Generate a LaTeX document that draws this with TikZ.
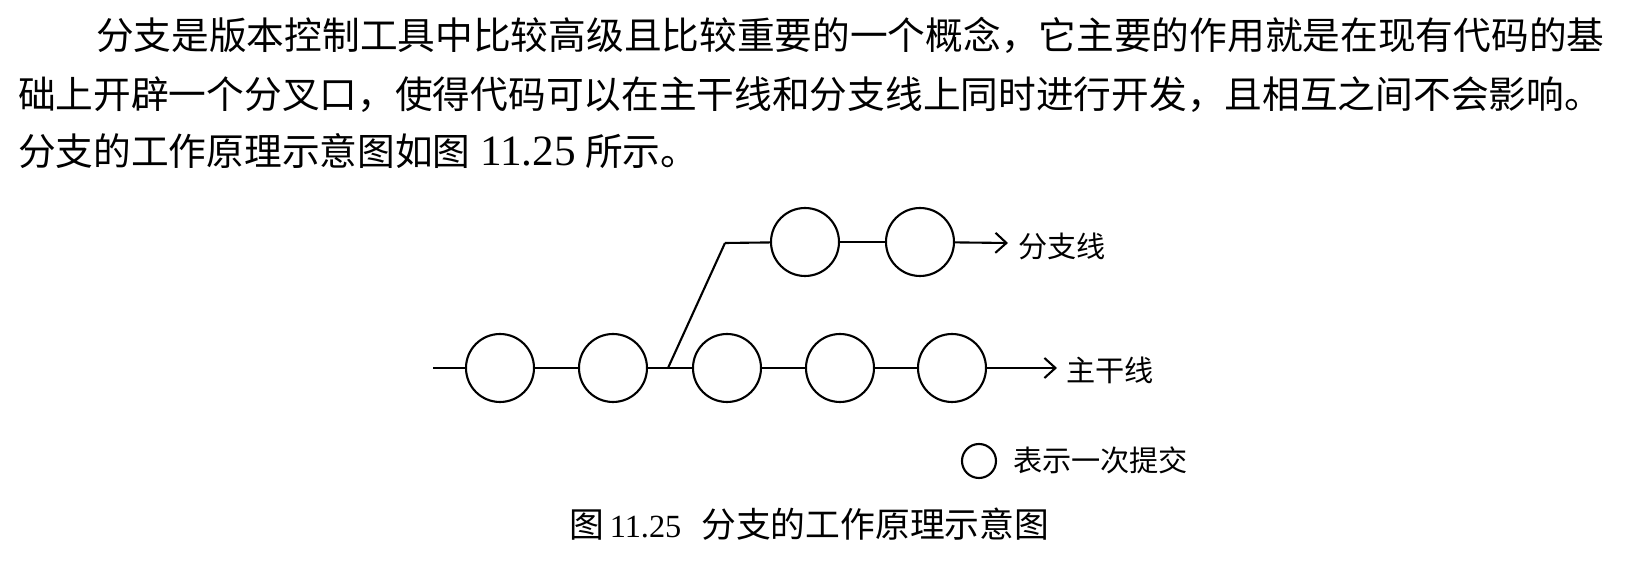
\documentclass[tikz,border=0pt]{standalone}
\usepackage{fontspec}
\setmainfont{Liberation Serif}
\newfontfamily\cjk{Noto Sans CJK SC}
\usepackage{tikz}
\usetikzlibrary{arrows.meta}
\newcommand{\bodysize}{\fontsize{10.73pt}{12pt}\selectfont}
\newcommand{\numsize}{\fontsize{12.3pt}{13pt}\selectfont}
\newcommand{\capsize}{\fontsize{9.9pt}{12pt}\selectfont}
\newcommand{\capnumsize}{\fontsize{9.2pt}{11pt}\selectfont}
\newcommand{\labsize}{\fontsize{8.3pt}{10pt}\selectfont}
\tikzstyle{cn}=[circle,draw=black,line width=0.6pt,inner sep=0pt,minimum size=0.68cm]
\tikzstyle{ln}=[circle,draw=black,line width=0.6pt,inner sep=0pt,minimum size=0.34cm]
\tikzstyle{txt}=[inner sep=0pt,anchor=west]
\tikzstyle{none}=[]
\tikzstyle{arr}=[-{Straight Barb[length=1.1mm,width=2mm]}]

\begin{document}
\begin{tikzpicture}[line width=0.6pt]
            \useasboundingbox (0, 0) rectangle (16.5, -5.72);
            \node [style=txt] (16) at (0.95, -0.35) {\bodysize\cjk 分支是版本控制工具中比较高级且比较重要的一个概念，它主要的作用就是在现有代码的基};
            \node [style=txt] (17) at (0.17, -0.95) {\bodysize\cjk 础上开辟一个分叉口，使得代码可以在主干线和分支线上同时进行开发，且相互之间不会影响。};
            \node [style=txt] (18) at (0.17, -1.51) {\bodysize{\cjk 分支的工作原理示意图如图} {\numsize 11.25} {\cjk 所示。}};
            \node [style=none] (0) at (4.33, -3.68) {};
            \node [style=cn] (1) at (5.00, -3.68) {};
            \node [style=cn] (2) at (6.13, -3.68) {};
            \node [style=none] (3) at (6.68, -3.68) {};
            \node [style=cn] (4) at (7.27, -3.68) {};
            \node [style=cn] (5) at (8.40, -3.68) {};
            \node [style=cn] (6) at (9.52, -3.68) {};
            \node [style=none] (7) at (10.57, -3.68) {};
            \node [style=none] (8) at (7.25, -2.43) {};
            \node [style=cn] (9) at (8.05, -2.42) {};
            \node [style=cn] (10) at (9.20, -2.42) {};
            \node [style=none] (11) at (10.08, -2.43) {};
            \node [style=txt] (12) at (10.65, -3.70) {\labsize\cjk 主干线};
            \node [style=txt] (13) at (10.17, -2.46) {\labsize\cjk 分支线};
            \node [style=ln] (14) at (9.79, -4.61) {};
            \node [style=txt] (15) at (10.12, -4.60) {\labsize\cjk 表示一次提交};
            \node [style=txt] (19) at (5.68, -5.24) {\capsize{\cjk 图}\hspace{0.06cm}{\capnumsize 11.25}\hspace{0.2cm}{\cjk 分支的工作原理示意图}};
            \draw (0.center) to (1);
            \draw (1) to (2);
            \draw (2) to (3.center);
            \draw (3.center) to (4);
            \draw (4) to (5);
            \draw (5) to (6);
            \draw [style=arr] (6) to (7.center);
            \draw (3.center) to (8.center);
            \draw (8.center) to (9);
            \draw (9) to (10);
            \draw [style=arr] (10) to (11.center);
    \end{tikzpicture}
\end{document}
